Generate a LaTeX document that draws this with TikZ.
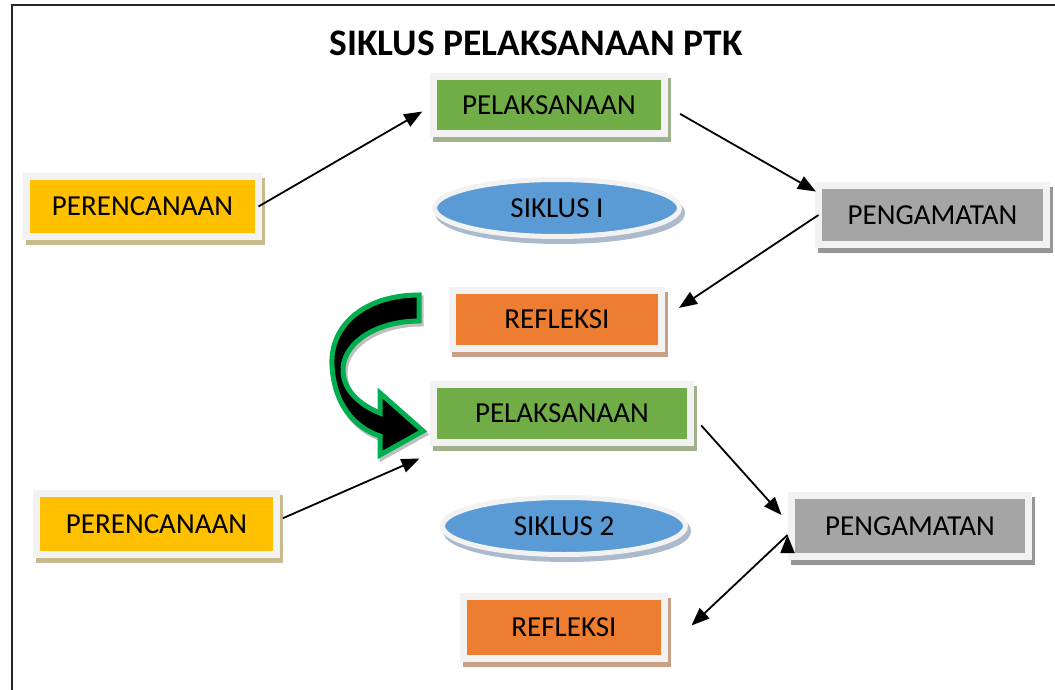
\documentclass[tikz,border=0pt]{standalone}
\usepackage{fontspec}
\setmainfont{Carlito}
\usepackage{xcolor}
\definecolor{boxgreen}{RGB}{112,173,71}
\definecolor{boxyellow}{RGB}{255,192,0}
\definecolor{boxorange}{RGB}{237,125,49}
\definecolor{boxgray}{RGB}{165,165,165}
\definecolor{boxblue}{RGB}{91,155,213}
\definecolor{framegray}{RGB}{242,242,242}
\definecolor{shadegreen}{RGB}{160,178,140}
\definecolor{shadeyellow}{RGB}{200,186,140}
\definecolor{shadeorange}{RGB}{200,160,134}
\definecolor{shadegray}{RGB}{150,150,150}
\definecolor{shadeblue}{RGB}{172,186,206}
\definecolor{arrowgreen}{RGB}{0,176,80}
\usepackage{tikz}
\usetikzlibrary{arrows.meta}
\usetikzlibrary{shapes.geometric}
\newcommand{\widthframe}{7pt}
\tikzset{
    common/.style={draw=framegray, line width=\widthframe, rectangle, inner sep=0pt, outer sep=0pt, font=\fontsize{29}{32}\selectfont},
    shaded/.style={preaction={draw=#1, fill=#1, transform canvas={xshift=3pt, yshift=-5pt}}},
    plan/.style={common, fill=boxyellow, shaded=shadeyellow},
    act/.style={common, fill=boxgreen, shaded=shadegreen},
    observe/.style={common, fill=boxgray, shaded=shadegray},
    reflect/.style={common, fill=boxorange, shaded=shadeorange},
    cycle/.style={common, ellipse, line width=5pt, fill=boxblue, shaded=shadeblue},
    link/.style={-{Triangle[length=18pt, width=14pt]}, line width=1.8pt}
}
\begin{document}
\begin{tikzpicture}[x=1pt, y=-1pt]
        \useasboundingbox (0,0) rectangle (1055,690);
        \draw[line width=1.5pt, black!85] (12,690) -- (12,5) -- (1055,5);

        \node[font=\fontsize{37.5}{40}\selectfont\bfseries] (title) at (536,43) {SIKLUS PELAKSANAAN PTK};

        % siklus I
        \path
            (549,105) node[act, minimum width=231, minimum height=57] (PEL1) {PELAKSANAAN}
            (142.5,206.5) node[plan, minimum width=232, minimum height=60] (PER1) {PERENCANAAN}
            (557,208) node[cycle, minimum width=245, minimum height=57] (SIK1) {SIKLUS I}
            (932.5,215) node[observe, minimum width=228, minimum height=59] (PENG1) {PENGAMATAN}
            (557,319.5) node[reflect, minimum width=209, minimum height=58] (REF1) {REFLEKSI};

        % siklus 2
        \path
            (562,413.5) node[act, minimum width=257, minimum height=58] (PEL2) {PELAKSANAAN}
            (156.5,524) node[plan, minimum width=240, minimum height=61] (PER2) {PERENCANAAN}
            (564,526) node[cycle, minimum width=243, minimum height=57] (SIK2) {SIKLUS 2}
            (910,526) node[observe, minimum width=237, minimum height=61] (PENG2) {PENGAMATAN}
            (564,627.5) node[reflect, minimum width=201, minimum height=62] (REF2) {REFLEKSI};

        \draw[link]
          (PER1.east) edge[shorten >=13pt] (PEL1.west)
          (PEL1.east) edge[shorten <=18pt, shorten >=3pt] ([yshift=22pt]PENG1.west)
          (PENG1.west) edge[shorten >=21pt] (REF1.east)
          ([yshift=3pt]PER2.east) edge[shorten <=7pt] ([xshift=-14pt, yshift=-16pt]PEL2.south west)
          (PEL2.east) edge[shorten <=16pt] ([xshift=-10pt, yshift=11pt]PENG2.west)
          ([xshift=-4pt, yshift=-9pt]PENG2.west) edge ([xshift=27pt, yshift=2pt]REF2.east);

        % panah lengkung dari refleksi ke pelaksanaan
        \draw[line width=5pt, arrowgreen, fill=black, line join=miter,
              preaction={draw=black!25, line width=5pt, transform canvas={xshift=2pt, yshift=-3pt}}]
          (419,295) .. controls (365,295) and (330,325) .. (332,365)
          .. controls (334,405) and (355,428) .. (380,436)
          -- (380,455) -- (423,431) -- (380,393) -- (380,413)
          .. controls (360,405) and (342,390) .. (343,368)
          .. controls (345,340) and (380,321) .. (419,321) -- cycle;
\end{tikzpicture}
\end{document}
